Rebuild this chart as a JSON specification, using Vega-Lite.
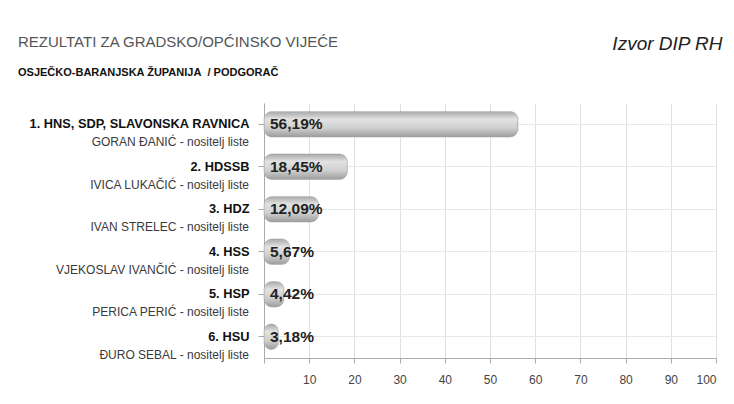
{
  "$schema": "https://vega.github.io/schema/vega-lite/v6.json",
  "autosize": {"type": "none"},
  "width": 452,
  "height": 255,
  "padding": {"left": 264, "top": 103, "right": 18, "bottom": 46},
  "background": "white",
  "config": {"view": {"stroke": null}},
  "title": {
    "text": "REZULTATI ZA GRADSKO/OPĆINSKO VIJEĆE",
    "subtitle": "OSJEČKO-BARANJSKA ŽUPANIJA\u00a0 / PODGORAČ",
    "anchor": "start",
    "frame": "group",
    "dx": -246,
    "dy": 48,
    "font": "Liberation Sans",
    "fontSize": 15,
    "fontWeight": "normal",
    "color": "#555555",
    "subtitleFont": "Liberation Sans",
    "subtitleFontSize": 11,
    "subtitleFontWeight": "bold",
    "subtitleColor": "#111111",
    "subtitlePadding": 17
  },
  "data": {
    "values": [
      {"party": "1. HNS, SDP, SLAVONSKA RAVNICA", "leader": "GORAN ĐANIĆ - nositelj liste", "pct": 56.19},
      {"party": "2. HDSSB", "leader": "IVICA LUKAČIĆ - nositelj liste", "pct": 18.45},
      {"party": "3. HDZ", "leader": "IVAN STRELEC - nositelj liste", "pct": 12.09},
      {"party": "4. HSS", "leader": "VJEKOSLAV IVANČIĆ - nositelj liste", "pct": 5.67},
      {"party": "5. HSP", "leader": "PERICA PERIĆ - nositelj liste", "pct": 4.42},
      {"party": "6. HSU", "leader": "ĐURO SEBAL - nositelj liste", "pct": 3.18}
    ]
  },
  "transform": [
    {"calculate": "replace(format(datum.pct, '.2f'), '.', ',') + '%'", "as": "label"}
  ],
  "layer": [
    {
      "mark": {
        "type": "bar",
        "height": {"band": 0.6},
        "cornerRadius": 8,
        "stroke": "#a0a0a0",
        "strokeWidth": 0.5,
        "color": {
          "gradient": "linear",
          "x1": 0, "y1": 0, "x2": 0, "y2": 1,
          "stops": [
            {"offset": 0, "color": "#a8a8a8"},
            {"offset": 0.3, "color": "#e2e2e2"},
            {"offset": 0.65, "color": "#cfcfcf"},
            {"offset": 1, "color": "#9c9c9c"}
          ]
        }
      },
      "encoding": {
        "y": {
          "field": "party", "type": "nominal", "sort": null,
          "scale": {"paddingInner": 0, "paddingOuter": 0},
          "axis": {
            "title": null, "orient": "left", "bandPosition": 0.5,
            "labelFont": "Liberation Sans", "labelFontSize": 12.8, "labelFontWeight": "bold",
            "labelColor": "#111111", "labelPadding": 9, "labelLimit": 400,
            "tickSize": 6, "tickColor": "#aaaaaa", "domainColor": "#aaaaaa",
            "grid": true, "gridColor": "#e8e8e8"
          }
        },
        "x": {
          "field": "pct", "type": "quantitative",
          "scale": {"domain": [0, 100], "nice": false},
          "axis": {
            "title": null, "orient": "bottom",
            "values": [0, 10, 20, 30, 40, 50, 60, 70, 80, 90, 100],
            "labelExpr": "datum.value == 0 ? '' : datum.label",
            "labelFont": "Liberation Sans", "labelFontSize": 12, "labelColor": "#444444",
            "labelPadding": 11, "tickSize": 5, "tickColor": "#aaaaaa", "domainColor": "#aaaaaa",
            "grid": true, "gridColor": "#e0e0e0"
          }
        }
      }
    },
    {
      "mark": {"type": "text", "align": "left", "baseline": "middle", "dx": 6, "font": "Liberation Sans", "fontSize": 15.5, "fontWeight": "bold", "color": "#222222"},
      "encoding": {
        "y": {"field": "party", "type": "nominal", "sort": null},
        "x": {
          "datum": 0, "type": "quantitative",
          "axis": {
            "orient": "top", "title": "Izvor DIP RH", "labels": false, "ticks": false, "domain": false, "grid": false,
            "titleFont": "Liberation Sans", "titleFontSize": 19, "titleFontStyle": "italic", "titleFontWeight": "normal",
            "titleColor": "#222222", "titleAlign": "right", "titleBaseline": "middle", "titleX": 458, "titleY": -60
          }
        },
        "text": {"field": "label"}
      }
    },
    {
      "mark": {"type": "text", "align": "right", "baseline": "middle", "dx": -15, "dy": 18, "font": "Liberation Sans", "fontSize": 12, "color": "#3a3a3a"},
      "encoding": {
        "y": {"field": "party", "type": "nominal", "sort": null},
        "x": {"datum": 0, "type": "quantitative", "axis": null},
        "text": {"field": "leader"}
      }
    }
  ],
  "resolve": {"axis": {"x": "independent"}}
}
